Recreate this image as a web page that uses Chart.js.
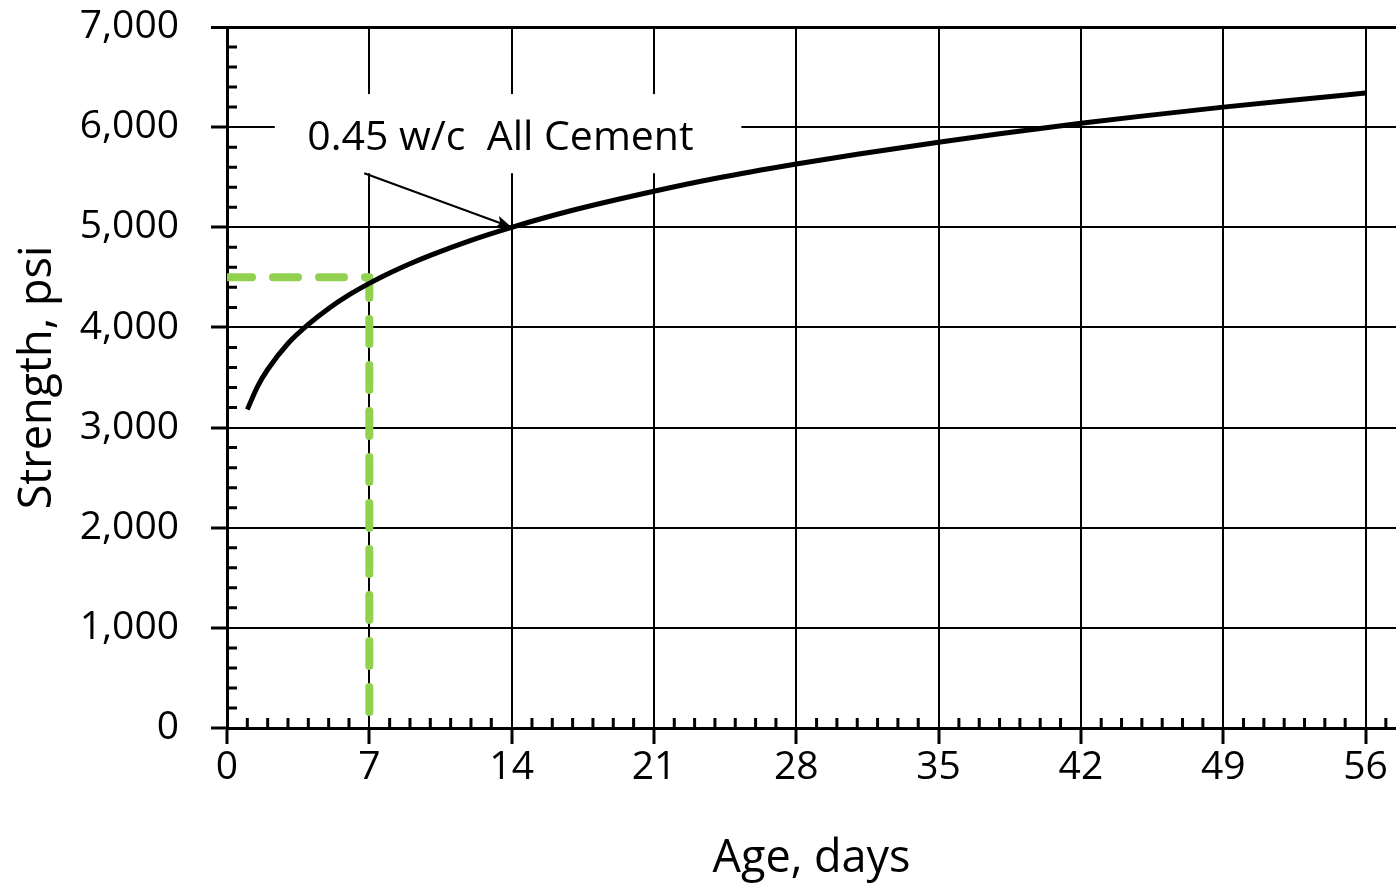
<!DOCTYPE html>
<html lang="en">
<head>
  <meta charset="UTF-8">
  <title>Strength vs Age</title>
  <style>
    html, body { margin: 0; padding: 0; background: #fff; overflow: hidden; }
    #wrap { width: 1396px; height: 888px; }
  </style>
</head>
<body>
  <div id="wrap"><canvas id="chart" width="1396" height="888"></canvas></div>

  <script src="https://cdn.jsdelivr.net/npm/chart.js"></script>
  <script>
    // curve (days, psi)
    const ageDays = [1, 1.5, 2, 3, 4, 5, 6, 7, 8, 9, 10, 12, 14, 17, 21, 24, 28, 31, 35, 38, 42, 45, 49, 52, 56];
    const strength = [3180, 3410, 3580, 3840, 4030, 4190, 4325, 4440, 4543, 4636, 4720, 4870, 5000, 5170, 5360, 5487, 5632, 5730, 5850, 5935, 6038, 6110, 6200, 6262, 6340];

    // green 7-day guide
    const guideX = [0, 7, 7];
    const guideY = [4500, 4500, 100];

    // axis ticks
    const xTicks = [0, 7, 14, 21, 28, 35, 42, 49, 56];
    const yTicks = [0, 1000, 2000, 3000, 4000, 5000, 6000, 7000];

    // annotation
    const noteText = '0.45 w/c  All Cement';
    const noteAt = [13.45, 5890];
    const noteBox = [2.35, 25.3, 5540, 6330];
    const arrowFrom = [6.75, 5540];
    const arrowTo = [14, 5000];

    const FONT = "'Open Sans', 'DejaVu Sans', sans-serif";

    // short ticks inside the plot + label box + arrow
    const extras = {
      id: 'extras',
      beforeDatasetsDraw(chart) {
        const { ctx, scales: { x, y } } = chart;
        ctx.save();
        ctx.strokeStyle = '#000';
        ctx.lineWidth = 3;
        ctx.beginPath();
        for (let d = 1; d <= 57; d++) {
          if (d % 7 === 0) continue;
          const px = x.getPixelForValue(d);
          ctx.moveTo(px, y.bottom);
          ctx.lineTo(px, y.bottom - 10);
        }
        for (let v = 200; v < 7000; v += 200) {
          if (v % 1000 === 0) continue;
          const py = y.getPixelForValue(v);
          ctx.moveTo(x.left, py);
          ctx.lineTo(x.left + 10, py);
        }
        ctx.stroke();

        // white box behind the label
        const bx0 = x.getPixelForValue(noteBox[0]), bx1 = x.getPixelForValue(noteBox[1]);
        const by0 = y.getPixelForValue(noteBox[3]), by1 = y.getPixelForValue(noteBox[2]);
        ctx.fillStyle = '#fff';
        ctx.fillRect(bx0, by0, bx1 - bx0, by1 - by0);

        ctx.fillStyle = '#000';
        ctx.font = '41px ' + FONT;
        ctx.textAlign = 'center';
        ctx.textBaseline = 'middle';
        ctx.fillText(noteText, x.getPixelForValue(noteAt[0]), y.getPixelForValue(noteAt[1]));

        // arrow
        const ax0 = x.getPixelForValue(arrowFrom[0]), ay0 = y.getPixelForValue(arrowFrom[1]);
        const ax1 = x.getPixelForValue(arrowTo[0]), ay1 = y.getPixelForValue(arrowTo[1]);
        const ang = Math.atan2(ay1 - ay0, ax1 - ax0);
        ctx.lineWidth = 2;
        ctx.beginPath();
        ctx.moveTo(ax0, ay0);
        ctx.lineTo(ax1, ay1);
        ctx.stroke();
        ctx.beginPath();
        ctx.moveTo(ax1, ay1);
        ctx.lineTo(ax1 - 17 * Math.cos(ang - 0.38), ay1 - 17 * Math.sin(ang - 0.38));
        ctx.lineTo(ax1 - 12 * Math.cos(ang), ay1 - 12 * Math.sin(ang));
        ctx.lineTo(ax1 - 17 * Math.cos(ang + 0.38), ay1 - 17 * Math.sin(ang + 0.38));
        ctx.closePath();
        ctx.fill();
        ctx.restore();
      }
    };

    new Chart(document.getElementById('chart'), {
      type: 'line',
      data: {
        datasets: [
          {
            data: ageDays.map((d, i) => ({ x: d, y: strength[i] })),
            borderColor: '#000',
            borderWidth: 5,
            pointRadius: 0,
            cubicInterpolationMode: 'monotone'
          },
          {
            data: guideX.map((d, i) => ({ x: d, y: guideY[i] })),
            borderColor: '#92d050',
            borderWidth: 8,
            borderDash: [25, 21],
            borderCapStyle: 'round',
            borderJoinStyle: 'round',
            pointRadius: 0,
            tension: 0
          }
        ]
      },
      options: {
        responsive: false,
        animation: false,
        layout: { padding: { top: 27, right: 0, left: 0, bottom: 0 } },
        plugins: { legend: { display: false }, tooltip: { enabled: false } },
        scales: {
          x: {
            type: 'linear',
            min: 0,
            max: 57.5,
            afterBuildTicks: s => { s.ticks = xTicks.map(v => ({ value: v })); },
            afterFit: s => { s.height = 160; s.paddingLeft = 0; s.paddingRight = 0; },
            grid: { color: '#000', lineWidth: 2, tickLength: 16, tickWidth: 3, tickColor: '#000' },
            border: { color: '#000', width: 3 },
            ticks: { color: '#000', font: { family: FONT, size: 39 }, padding: 0, maxRotation: 0 },
            title: { display: true, text: 'Age, days', color: '#000', font: { family: FONT, size: 45 }, padding: { top: 0, bottom: 2 } }
          },
          y: {
            min: 0,
            max: 7000,
            afterBuildTicks: s => { s.ticks = yTicks.map(v => ({ value: v })); },
            afterFit: s => { s.width = 227; s.paddingTop = 0; s.paddingBottom = 0; },
            grid: {
              color: '#000',
              lineWidth: c => (c.tick && c.tick.value === 7000 ? 3 : 2),
              tickLength: 16, tickWidth: 3, tickColor: '#000'
            },
            border: { color: '#000', width: 3 },
            ticks: {
              color: '#000', font: { family: FONT, size: 39 }, padding: 32,
              callback: v => v.toLocaleString('en-US')
            },
            title: { display: true, text: 'Strength, psi', color: '#000', font: { family: FONT, size: 45 }, padding: { top: 11, bottom: 0 } }
          }
        }
      },
      plugins: [extras]
    });
  </script>
</body>
</html>
